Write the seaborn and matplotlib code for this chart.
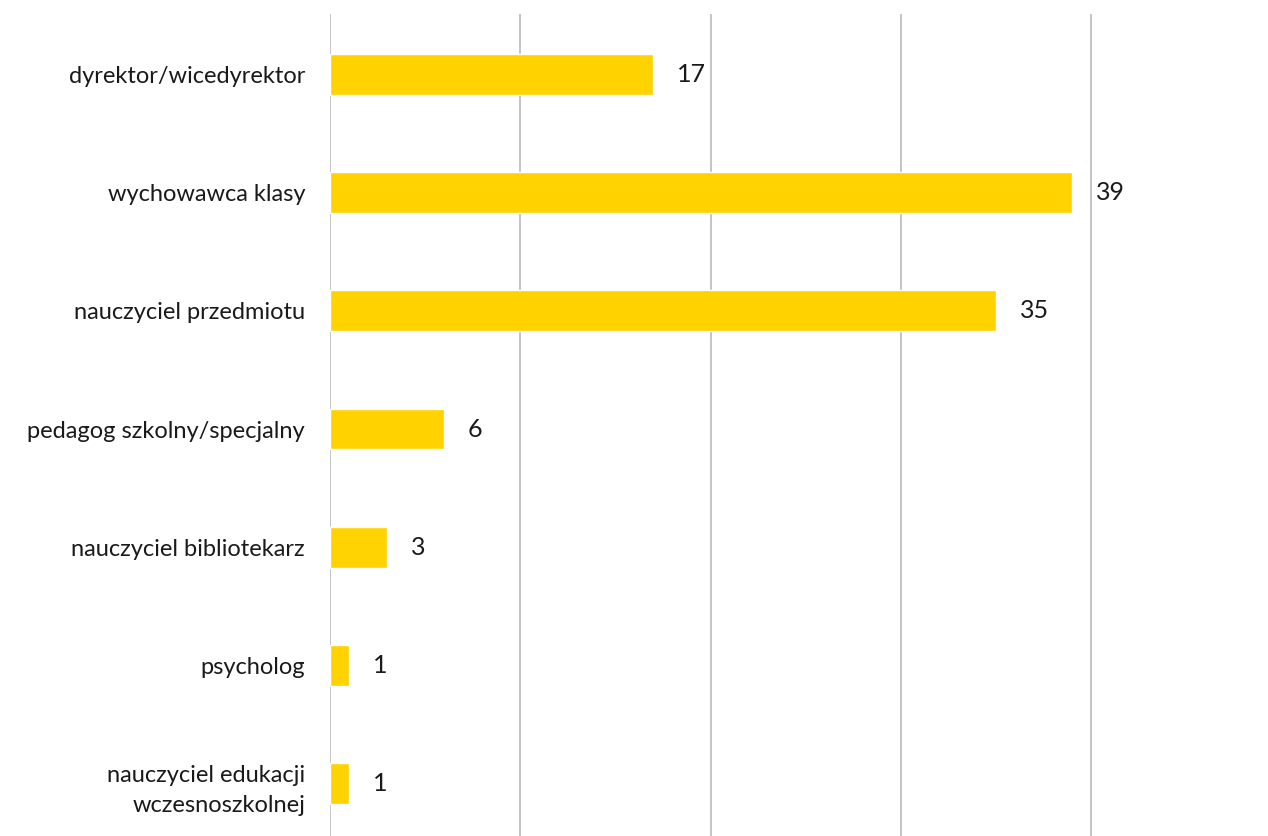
"""Horizontal bar chart: roles of school staff."""

import matplotlib
matplotlib.use("Agg")
import matplotlib.pyplot as plt
import pandas as pd
import seaborn as sns

categories = [
    "dyrektor/wicedyrektor",
    "wychowawca klasy",
    "nauczyciel przedmiotu",
    "pedagog szkolny/specjalny",
    "nauczyciel bibliotekarz",
    "psycholog",
    "nauczyciel edukacji\nwczesnoszkolnej",
]
values = [17, 39, 35, 6, 3, 1, 1]
grid_ticks = [0, 10, 20, 30, 40]

BAR_COLOR = "#FFD200"
GRID_COLOR = "#BFBFBF"


def main() -> None:
    sns.set_theme(style="white")
    plt.rcParams["font.family"] = ["Lato", "DejaVu Sans"]

    df = pd.DataFrame({"role": categories, "count": values})

    fig = plt.figure(figsize=(12.68, 8.36), dpi=100)
    ax = fig.add_axes([330 / 1268, 0, 1 - 330 / 1268, 822 / 836])

    sns.barplot(data=df, x="count", y="role", color=BAR_COLOR, width=0.345,
                saturation=1, ax=ax, zorder=3)

    ax.set_xlim(0, 49.3)
    ax.set_ylim(6.444, -0.512)
    ax.set_xticks(grid_ticks)
    ax.set_xticklabels([])
    ax.tick_params(axis="x", length=0)
    ax.tick_params(axis="y", length=0, pad=18, labelsize=17, labelcolor="#1a1a1a")
    for lab in ax.get_yticklabels():
        lab.set_multialignment("right")
        lab.set_linespacing(1.55)
    ax.xaxis.grid(True, color=GRID_COLOR, linewidth=1.3)
    ax.set_axisbelow(True)
    for side in ["top", "right", "bottom", "left"]:
        ax.spines[side].set_visible(False)
    ax.set_xlabel("")
    ax.set_ylabel("")

    for container in ax.containers:
        ax.bar_label(container, fmt="%d", padding=17, fontsize=18, color="#1a1a1a")

    fig.savefig("out.png", dpi=100)
    plt.close(fig)


if __name__ == "__main__":
    main()
